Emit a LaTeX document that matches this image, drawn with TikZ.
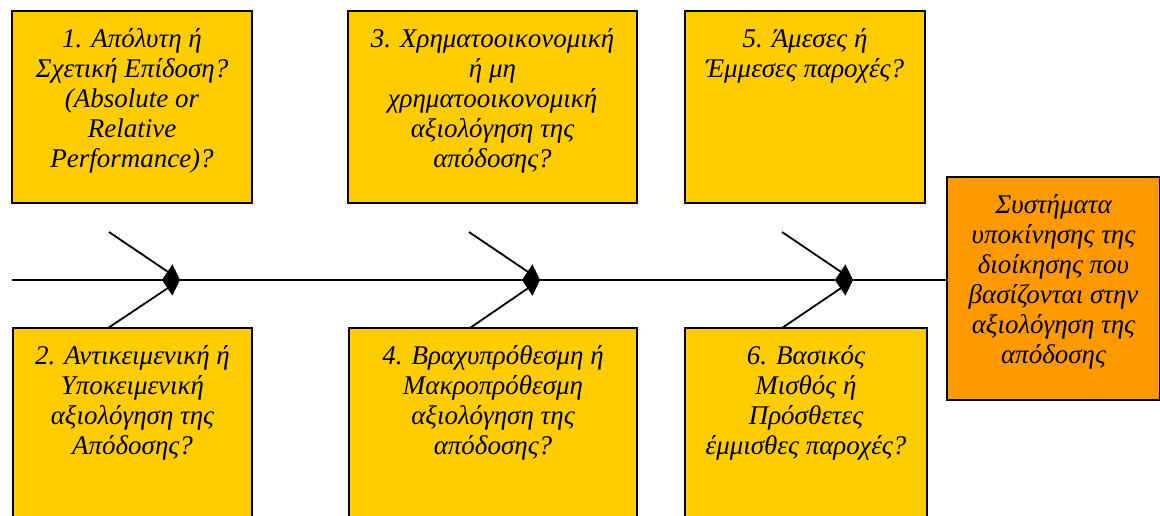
\documentclass[tikz,border=0pt]{standalone}
\usepackage{fontspec}
\setmainfont{Liberation Serif}
\usetikzlibrary{arrows.meta}
\definecolor{boxyellow}{HTML}{FFCC00}
\definecolor{boxorange}{HTML}{FF9900}
\begin{document}
\begin{tikzpicture}[x=1pt,y=-1pt,
  ybox/.style={draw=black, line width=1.6pt, fill=boxyellow, inner sep=0pt, outer sep=0pt, anchor=north west},
  obox/.style={ybox, fill=boxorange},
  txt/.style={anchor=north, align=center, inner sep=0pt, font=\fontsize{27}{30}\selectfont\itshape},
  spine/.style={line width=1.8pt},
  branch/.style={line width=1.8pt, -{Triangle[length=15pt,width=17pt]}},
]
\useasboundingbox (0,0) rectangle (1160,516);
\clip (0,0) rectangle (1160,516);
\fill[white] (0,0) rectangle (1160,516);

% top boxes
\node[ybox, minimum width=240pt, minimum height=192pt] (b1) at (12,11) {};
\node[ybox, minimum width=289pt, minimum height=192pt] (b3) at (348,11) {};
\node[ybox, minimum width=240pt, minimum height=192pt] (b5) at (685,11) {};
% bottom boxes
\node[ybox, minimum width=239pt, minimum height=212pt] (b2) at (13,328) {};
\node[ybox, minimum width=288pt, minimum height=212pt] (b4) at (349,328) {};
\node[ybox, minimum width=242pt, minimum height=212pt] (b6) at (685,328) {};
% goal box
\node[obox, minimum width=213pt, minimum height=223pt] (g) at (947,177) {};

% texts
\node[txt] (t1) at ([yshift=-15pt]b1.north) {\rule{0pt}{21pt}1. Απόλυτη ή\\Σχετική Επίδοση?\\(Absolute or\\Relative\\Performance)?};
\node[txt] (t3) at ([yshift=-15pt]b3.north) {\rule{0pt}{21pt}3. Χρηματοοικονομική\\ή μη\\χρηματοοικονομική\\αξιολόγηση της\\απόδοσης?};
\node[txt] (t5) at ([yshift=-15pt]b5.north) {\rule{0pt}{21pt}5. Άμεσες ή\\Έμμεσες παροχές?};
\node[txt] (t2) at ([yshift=-15pt]b2.north) {\rule{0pt}{21pt}2. Αντικειμενική ή\\Υποκειμενική\\αξιολόγηση της\\Απόδοσης?};
\node[txt] (t4) at ([yshift=-15pt]b4.north) {\rule{0pt}{21pt}4. Βραχυπρόθεσμη ή\\Μακροπρόθεσμη\\αξιολόγηση της\\απόδοσης?};
\node[txt] (t6) at ([yshift=-15pt]b6.north) {\rule{0pt}{21pt}6. Βασικός\\Μισθός ή\\Πρόσθετες\\έμμισθες παροχές?};
\node[txt] (tg) at ([yshift=-15pt]g.north) {\rule{0pt}{21pt}Συστήματα\\υποκίνησης της\\διοίκησης που\\βασίζονται στην\\αξιολόγηση της\\απόδοσης};

% spine
\coordinate (s0) at (12,280);
\draw[spine] (s0) -- (s0 -| g.west);

% junctions and branch ends
\coordinate (j1) at (180,280);
\coordinate (j2) at (540,280);
\coordinate (j3) at (853,280);
\coordinate (a1) at (109,232);
\coordinate (a2) at (469,232);
\coordinate (a3) at (782,232);
\coordinate (c1) at (108,328);
\coordinate (c2) at (470,328);
\coordinate (c3) at (782,328);

\draw[branch] (a1) -- (j1);
\draw[branch] (c1) -- (j1);
\draw[branch] (a2) -- (j2);
\draw[branch] (c2) -- (j2);
\draw[branch] (a3) -- (j3);
\draw[branch] (c3) -- (j3);
\end{tikzpicture}
\end{document}
